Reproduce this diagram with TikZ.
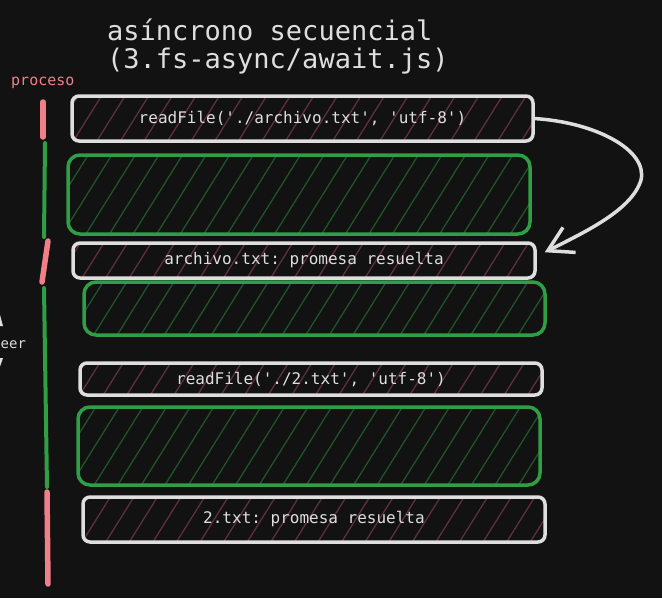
\documentclass[tikz,border=0pt]{standalone}
\usepackage{fontspec}
\setmonofont{DejaVu Sans Mono}
\usetikzlibrary{positioning, arrows.meta, calc, patterns.meta}
\definecolor{bgdark}{RGB}{18,18,18}
\definecolor{boxgray}{RGB}{222,222,222}
\definecolor{okgreen}{RGB}{47,158,68}
\definecolor{procpink}{RGB}{240,128,136}
\definecolor{hatchred}{RGB}{96,48,58}
\definecolor{hatchgreen}{RGB}{32,84,42}
\tikzset{every node/.append style={execute at begin node={\hyphenpenalty=10000\exhyphenpenalty=10000\relax}}}

\begin{document}
\begin{tikzpicture}[x=1pt,y=-1pt,
  syncbox/.style={draw=boxgray,line width=3.5pt,rounded corners=7pt,
    pattern={Lines[angle=58,distance=20pt,line width=1.3pt]},pattern color=hatchred,
    text=boxgray,font=\ttfamily\fontsize{16}{18}\selectfont,inner sep=0pt},
  waitbox/.style={draw=okgreen,line width=3.5pt,rounded corners=12pt,
    pattern={Lines[angle=58,distance=20pt,line width=1.3pt]},pattern color=hatchgreen,inner sep=0pt},
  runseg/.style={procpink,line width=5.5pt,line cap=round},
  idleseg/.style={okgreen,line width=4pt,line cap=round},
  >={Straight Barb[length=24pt,width=28pt,line width=3.5pt]}]
  \useasboundingbox[fill=bgdark] (0,0) rectangle (662,598);

  % titulo
  \node[anchor=north west,inner sep=0pt,align=left,text=boxgray,
    font=\ttfamily\fontsize{27}{28}\selectfont] (title) at (107,19)
    {asíncrono secuencial\\(3.fs-async/await.js)};
  \node[anchor=base west,inner sep=0pt,text=procpink,
    font=\ttfamily\fontsize{15}{17}\selectfont] (proc) at (11,85) {proceso};
  \node[anchor=base west,inner sep=0pt,text=boxgray,
    font=\ttfamily\fontsize{14}{16}\selectfont] (side) at (0.5,348) {eer};
  \fill[boxgray] (-4,300) -- (3,326) -- (-11,326) -- cycle;
  \fill[boxgray] (-11,358) -- (3,358) -- (-4,378) -- cycle;

  % cajas
  \node[syncbox,minimum width=461pt,minimum height=45pt] (rf1) at (302.5,118.5) {readFile('./archivo.txt', 'utf-8')};
  \node[waitbox,minimum width=462pt,minimum height=79pt] (w1) at (299,194.5) {};
  \node[syncbox,minimum width=462pt,minimum height=35pt] (ar1) at (304,260.5) {archivo.txt: promesa resuelta};
  \node[waitbox,minimum width=461pt,minimum height=53pt] (w2) at (314.5,308.5) {};
  \node[syncbox,minimum width=462pt,minimum height=32pt] (rf2) at (311,379) {readFile('./2.txt', 'utf-8')};
  \node[waitbox,minimum width=462pt,minimum height=78pt] (w3) at (309,446) {};
  \node[syncbox,minimum width=462pt,minimum height=45pt] (ar2) at (314,519.5) {2.txt: promesa resuelta};

  % linea de tiempo
  \draw[runseg] (43,102) -- (43,137);
  \draw[idleseg] (45,143) -- (44,237);
  \draw[runseg] (48,241) -- (42,282);
  \draw[idleseg] (44,288) -- (47,487);
  \draw[runseg] (47,492) -- (48,584);

  \coordinate (tip) at ($(ar1.north east)+(8,11)$);
  \draw[->,boxgray,line width=3.5pt,line cap=round]
    (rf1.east) .. controls (595,122) and (648,150) .. (641,180)
    .. controls (632,210) and (585,232) .. (tip);
\end{tikzpicture}
\end{document}
